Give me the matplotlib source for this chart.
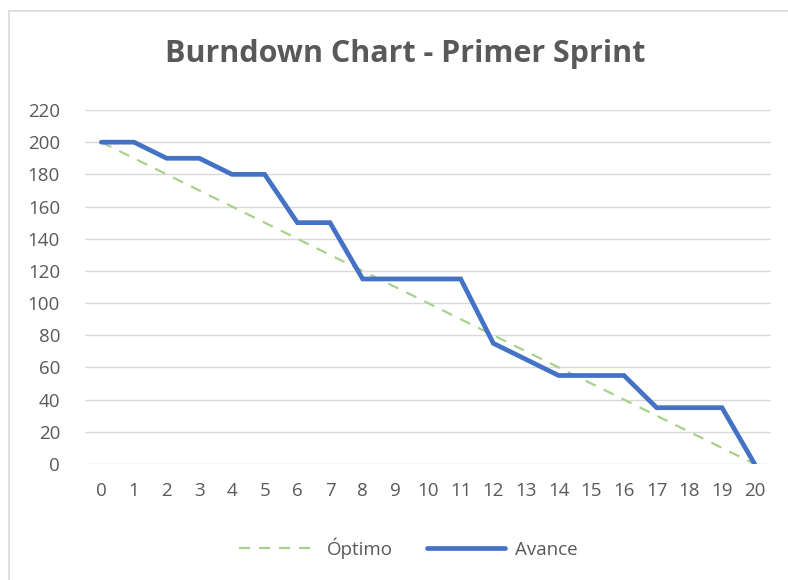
import matplotlib
matplotlib.use("Agg")
import matplotlib.pyplot as plt
from matplotlib.lines import Line2D

days = list(range(21))
x_labels = [str(d) for d in days]
optimo = [200, 190, 180, 170, 160, 150, 140, 130, 120, 110, 100,
          90, 80, 70, 60, 50, 40, 30, 20, 10, 0]
avance = [200, 200, 190, 190, 180, 180, 150, 150, 115, 115, 115,
          115, 75, 65, 55, 55, 55, 35, 35, 35, 0]
y_ticks = list(range(0, 221, 20))

plt.rcParams['font.family'] = ['Open Sans', 'DejaVu Sans']
W, H = 788, 580
fig = plt.figure(figsize=(W / 100, H / 100), dpi=100)
ax = fig.add_axes([85 / W, 1 - 464 / H, (771 - 85) / W, (464 - 110) / H])

txt = '#595959'
ax.set_ylim(0, 220)
ax.set_xlim(-0.5, 20.5)
ax.set_yticks(y_ticks)
ax.set_xticks(days)
ax.set_xticklabels(x_labels)
ax.yaxis.grid(True, color='#d9d9d9', linewidth=1.0)
ax.set_axisbelow(True)
for s in ax.spines.values():
    s.set_visible(False)
ax.tick_params(axis='both', length=0, colors=txt, labelsize=13.5)
ax.tick_params(axis='y', pad=18)
ax.tick_params(axis='x', pad=13)

ax.plot(days, optimo, color='#A9D18E', linewidth=1.6, linestyle=(0, (5, 4)),
        label='Óptimo', zorder=2)
ax.plot(days, avance, color='#4472C4', linewidth=3.4, label='Avance',
        solid_capstyle='round', solid_joinstyle='miter', zorder=3)

fig.text(405 / W, 1 - 54 / H, 'Burndown Chart - Primer Sprint', ha='center',
         va='center', fontsize=22, fontweight='bold', color=txt)

leg = fig.legend(handles=ax.get_lines(), loc='center', bbox_to_anchor=(408 / W, 1 - 548 / H),
                 ncol=2, frameon=False, fontsize=13.5, handlelength=4.2,
                 columnspacing=1.8, handletextpad=0.5)
for t in leg.get_texts():
    t.set_color(txt)

fig.add_artist(Line2D([8.5 / W, 1], [1 - 10.5 / H, 1 - 10.5 / H], color='#d9d9d9', linewidth=1.2,
                      transform=fig.transFigure))
fig.add_artist(Line2D([8.5 / W, 8.5 / W], [0, 1 - 10.5 / H], color='#d9d9d9', linewidth=1.2,
                      transform=fig.transFigure))

fig.savefig('out.png', dpi=100)
